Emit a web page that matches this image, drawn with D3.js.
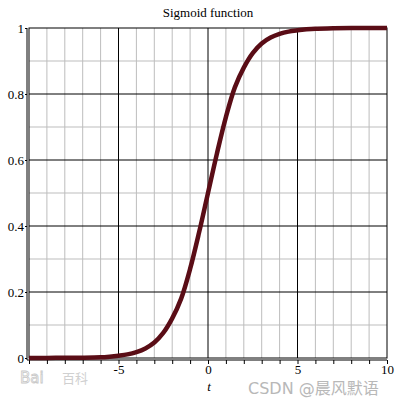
<!DOCTYPE html>
<html><head><meta charset="utf-8">
<script src="https://cdn.jsdelivr.net/npm/d3@7/dist/d3.min.js"></script>
<style>body{margin:0;background:#fff}svg{display:block}</style>
</head><body>
<svg id="c" width="400" height="400"></svg>
<script>
const title = "Sigmoid function";
const xLabel = "t";
const xTicks = [-5, 0, 5, 10];
const yTicks = [0, 0.2, 0.4, 0.6, 0.8, 1];
const yTickLabels = ["0", "0.2", "0.4", "0.6", "0.8", "1"];
const tValues = [-10,-9,-8,-7,-6,-5.5,-5,-4.5,-4,-3.5,-3,-2.5,-2,-1.5,-1,-0.5,0,0.5,1,1.5,2,2.5,3,3.5,4,4.5,5,5.5,6,7,8,9,10];
const sValues = [0.0,0.0,0.001,0.001,0.002,0.004,0.007,0.011,0.018,0.029,0.047,0.076,0.12,0.18,0.27,0.38,0.5,0.62,0.73,0.82,0.88,0.924,0.953,0.971,0.982,0.989,0.993,0.996,0.998,0.999,1.0,1.0,1.0];

const svg = d3.select("#c");
const L = 29, R = 387, T = 28, B = 358;
const serif = "Liberation Serif, Times New Roman, serif";
const x = d3.scaleLinear().domain([-10, 10]).range([L, R]);
const y = d3.scaleLinear().domain([0, 1]).range([B, T]);

const g = svg.append("g");
g.selectAll(".vx").data(d3.range(-10, 11, 1).filter(v => v % 5 !== 0)).join("line")
  .attr("x1", d => x(d)).attr("x2", d => x(d)).attr("y1", T).attr("y2", B)
  .attr("stroke", "#bdbdbd").attr("stroke-width", 1);
g.selectAll(".hy").data(d3.range(1, 10, 2).map(v => v / 10)).join("line")
  .attr("x1", L).attr("x2", R).attr("y1", d => y(d)).attr("y2", d => y(d))
  .attr("stroke", "#bdbdbd").attr("stroke-width", 1);
g.selectAll(".vX").data([-5, 0, 5]).join("line")
  .attr("x1", d => x(d)).attr("x2", d => x(d)).attr("y1", T).attr("y2", B)
  .attr("stroke", "#000").attr("stroke-width", 1);
g.selectAll(".hY").data([0.2, 0.4, 0.6, 0.8]).join("line")
  .attr("x1", L).attr("x2", R).attr("y1", d => y(d)).attr("y2", d => y(d))
  .attr("stroke", "#000").attr("stroke-width", 1);
svg.append("rect").attr("x", L).attr("y", T).attr("width", R - L).attr("height", B - T)
  .attr("fill", "none").attr("stroke", "#000").attr("stroke-width", 1);
svg.append("line").attr("x1", L - 2).attr("x2", L - 2).attr("y1", T).attr("y2", B + 2)
  .attr("stroke", "#000");
svg.append("line").attr("x1", L - 2).attr("x2", R).attr("y1", B + 2).attr("y2", B + 2)
  .attr("stroke", "#000");

const xAxis = d3.axisBottom(x).tickValues(d3.range(-10, 11, 1)).tickSize(4).tickFormat(d => xTicks.includes(d) ? d : "");
const xa = svg.append("g").attr("transform", `translate(0,${B + 2})`).call(xAxis);
xa.select(".domain").remove();
xa.selectAll("text").attr("font-family", serif).attr("font-size", 13).attr("fill", "#000").attr("dy", "0.5em");
const yAxis = d3.axisLeft(y).tickValues(yTicks).tickSize(4).tickFormat((d, i) => yTickLabels[i]);
const ya = svg.append("g").attr("transform", `translate(${L - 2},0)`).call(yAxis);
ya.select(".domain").remove();
ya.selectAll("text").attr("font-family", serif).attr("font-size", 13).attr("fill", "#000").attr("x", -3);
ya.selectAll("line").attr("x2", -2);

const line = d3.line().x((d, i) => x(tValues[i])).y(d => y(d)).curve(d3.curveCatmullRom);
svg.append("path").datum(sValues).attr("d", line)
  .attr("fill", "none").attr("stroke", "#5a0d16").attr("stroke-width", 4.5).attr("stroke-linejoin", "round");

svg.append("text").attr("x", 208).attr("y", 17).attr("text-anchor", "middle")
  .attr("font-family", serif).attr("font-size", 13).text(title);
svg.append("text").attr("x", 209).attr("y", 391).attr("text-anchor", "middle")
  .attr("font-family", serif).attr("font-style", "italic").attr("font-size", 13).text(xLabel);

svg.append("text").attr("x", 20).attr("y", 383).attr("font-family", "DejaVu Sans, sans-serif").attr("font-size", 15)
  .attr("fill", "none").attr("stroke", "#c8c8c8").attr("stroke-width", 0.8).text("Bai");
svg.append("text").attr("x", 62).attr("y", 383).attr("font-family", "Noto Sans CJK SC, sans-serif").attr("font-size", 13)
  .attr("fill", "#d0d0d0").text("百科");
svg.append("text").attr("x", 248).attr("y", 394).attr("font-family", "DejaVu Sans, Noto Sans CJK SC, sans-serif").attr("font-size", 16)
  .attr("fill", "#b8b8b8").text("CSDN @晨风默语");
</script>
</body></html>
